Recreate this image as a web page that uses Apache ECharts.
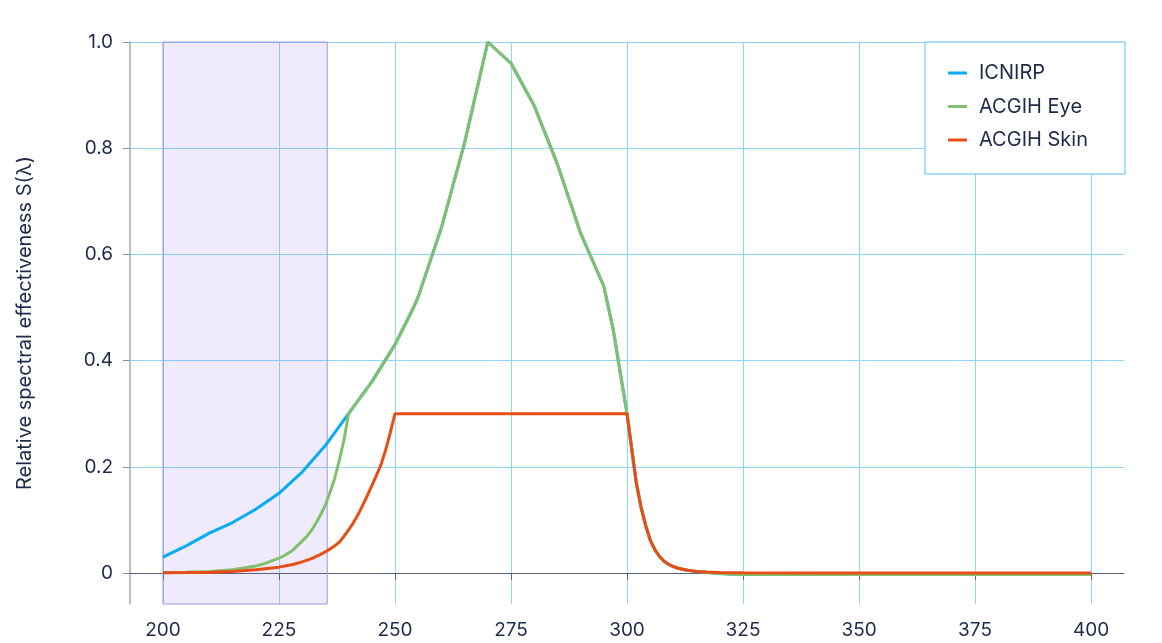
<!DOCTYPE html>
<html>
<head>
<meta charset="utf-8">
<script src="https://cdn.jsdelivr.net/npm/echarts@6/dist/echarts.min.js"></script>
<style>
html,body{margin:0;padding:0;background:#fff;}
#chart{width:1162px;height:643px;}
</style>
</head>
<body>
<div id="chart"></div>
<script>
// Wavelength (nm) and relative spectral effectiveness S(λ)
const icnirpWl = [200,205,210,215,220,225,230,235,240,245,250,254,255,260,265,270,275,280,285,290,295,297,300,301,302,303,304,305,306,307,308,309,310,311,312,313,314,315,317,318,320,322,325,350,375,400];
const icnirpS  = [0.03,0.051,0.075,0.095,0.12,0.15,0.19,0.24,0.30,0.36,0.43,0.50,0.52,0.65,0.81,1.0,0.96,0.88,0.77,0.64,0.54,0.46,0.30,0.235,0.17,0.125,0.09,0.062,0.044,0.031,0.022,0.016,0.012,0.009,0.007,0.005,0.004,0.003,0.0015,0.0005,-0.001,-0.002,-0.003,-0.003,-0.003,-0.003];

const eyeWl = [200,205,210,215,220,222,225,226,228,230,231,232,233,234,235,236,237,238,239,240,245,250,254,255,260,265,270,275,280,285,290,295,297,300,301,302,303,304,305,306,307,308,309,310,311,312,313,314,315,317,318,320,322,325,350,375,400];
const eyeS  = [0.0006,0.0013,0.0028,0.006,0.013,0.018,0.028,0.032,0.043,0.060,0.069,0.080,0.094,0.110,0.128,0.152,0.178,0.212,0.250,0.30,0.36,0.43,0.50,0.52,0.65,0.81,1.0,0.96,0.88,0.77,0.64,0.54,0.46,0.30,0.235,0.17,0.125,0.09,0.062,0.044,0.031,0.022,0.016,0.012,0.009,0.007,0.005,0.004,0.003,0.0015,0.0005,-0.001,-0.002,-0.003,-0.003,-0.003,-0.003];

const skinWl = [200,205,210,215,220,225,228,230,232,234,235,236,237,238,239,240,241,242,243,244,245,246,247,248,249,250,300,301,302,303,304,305,306,307,308,309,310,311,312,313,314,315,317,320,325,350,375,400];
const skinS  = [0.0004,0.0008,0.0015,0.003,0.006,0.011,0.016,0.021,0.027,0.035,0.040,0.045,0.051,0.058,0.069,0.081,0.094,0.109,0.127,0.145,0.164,0.184,0.204,0.232,0.265,0.30,0.30,0.235,0.17,0.125,0.09,0.062,0.044,0.031,0.022,0.016,0.012,0.009,0.007,0.005,0.004,0.003,0.0018,0.001,0.0004,0.0002,0.0001,0.0001];

const xTicks = [200,225,250,275,300,325,350,375,400];
const yTicks = [0,0.2,0.4,0.6,0.8,1.0];
const band = [200,235.4];

const zip = (xs, ys) => xs.map((x, i) => [x, ys[i]]);

const FONT = 'Inter, "Noto Sans", sans-serif';
const TEXT = '#1f2a4a';
const GRID = '#8fd6fa';

const chart = echarts.init(document.getElementById('chart'), null, {renderer: 'canvas'});
chart.setOption({
  animation: false,
  backgroundColor: '#ffffff',
  textStyle: {fontFamily: FONT},
  grid: {left: 130, right: 38, top: 42, bottom: 39, containLabel: false},
  legend: {
    orient: 'vertical',
    left: 925, top: 42,
    padding: [20, 37, 23, 23],
    backgroundColor: '#ffffff',
    borderColor: GRID, borderWidth: 1.5,
    itemWidth: 19, itemHeight: 3,
    itemGap: 11.5,
    icon: 'rect',
    textStyle: {fontFamily: FONT, fontSize: 20, color: TEXT, lineHeight: 22, padding: [0, 0, 0, 7]},
    data: ['ICNIRP', 'ACGIH Eye', 'ACGIH Skin']
  },
  xAxis: {
    type: 'value',
    min: 192.9, max: 407.1,
    axisLine: {show: true, lineStyle: {color: '#5a607c', width: 1}},
    axisTick: {show: true, length: 7, customValues: xTicks, lineStyle: {color: '#5a607c'}},
    axisLabel: {customValues: xTicks, margin: 17, fontSize: 19, color: TEXT, fontFamily: FONT},
    splitLine: {show: true, lineStyle: {color: GRID, width: 1}}
  },
  yAxis: {
    type: 'value',
    min: -0.0584, max: 1.0,
    name: 'Relative spectral effectiveness S(λ)',
    nameLocation: 'middle',
    nameGap: 95,
    nameTextStyle: {fontSize: 20, color: TEXT, fontFamily: FONT},
    axisLine: {show: true, lineStyle: {color: '#a3a6b8', width: 1.5}},
    axisTick: {show: true, length: 7, customValues: yTicks, lineStyle: {color: '#8a8da0'}},
    axisLabel: {
      customValues: yTicks, margin: 17, fontSize: 19, color: TEXT, fontFamily: FONT,
      formatter: v => (Math.abs(v) < 1e-9 ? '0' : v.toFixed(1))
    },
    splitLine: {show: true, lineStyle: {color: GRID, width: 1}}
  },
  series: [
    {
      name: 'ICNIRP', type: 'line', showSymbol: false, symbol: 'none',
      data: zip(icnirpWl, icnirpS),
      lineStyle: {color: '#0aabf5', width: 3}, itemStyle: {color: '#0aabf5'},
      z: 3,
      markArea: {
        silent: true,
        itemStyle: {color: 'rgba(122,88,230,0.12)', borderColor: '#9b98ea', borderWidth: 1},
        data: [[{xAxis: band[0], yAxis: -0.0584}, {xAxis: band[1], yAxis: 1.0}]]
      }
    },
    {
      name: 'ACGIH Eye', type: 'line', showSymbol: false, symbol: 'none',
      data: zip(eyeWl, eyeS),
      lineStyle: {color: '#82c06c', width: 3}, itemStyle: {color: '#82c06c'},
      z: 4
    },
    {
      name: 'ACGIH Skin', type: 'line', showSymbol: false, symbol: 'none',
      data: zip(skinWl, skinS),
      lineStyle: {color: '#e84e14', width: 3}, itemStyle: {color: '#e84e14'},
      z: 5
    }
  ]
});
</script>
</body>
</html>
